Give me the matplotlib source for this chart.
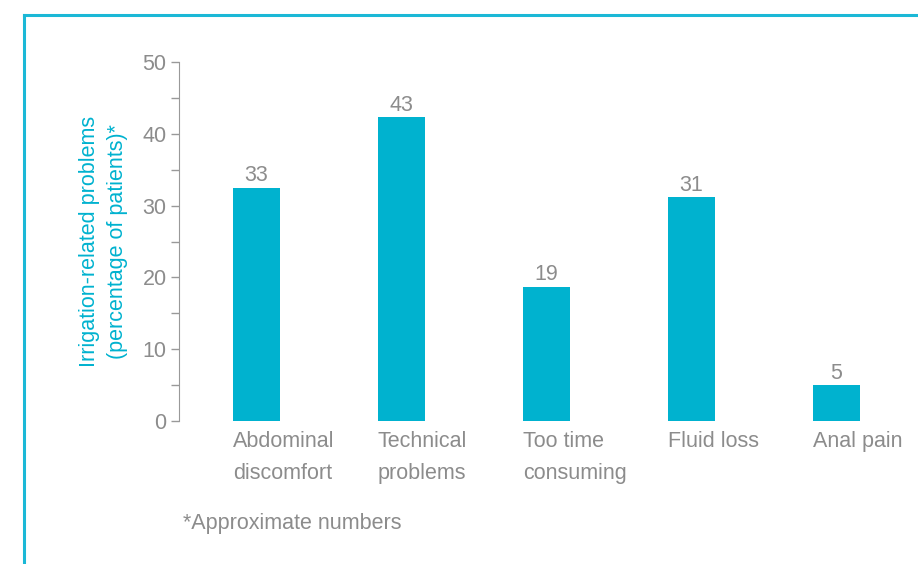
import numpy as np
import matplotlib.pyplot as plt
from matplotlib.lines import Line2D
from matplotlib import transforms

# datos
categorias = ["Abdominal\ndiscomfort", "Technical\nproblems", "Too time\nconsuming", "Fluid loss", "Anal pain"]
valores = [32.5, 42.3, 18.7, 31.2, 5.0]
etiquetas = ["33", "43", "19", "31", "5"]

CIAN = "#00b2cf"
GRIS = "#8c8c8c"
FS = 15.5
plt.rcParams["font.family"] = ["Liberation Sans", "DejaVu Sans"]

fig = plt.figure(figsize=(9.18, 5.64), dpi=100)
ax = fig.add_axes([179/918, 143/564, 739/918, 359/564])

x = np.arange(len(valores))
ax.bar(x, valores, width=0.324, color=CIAN)

for xi, v, et in zip(x, valores, etiquetas):
    ax.annotate(et, (xi, v), xytext=(0, 1), textcoords="offset points",
                ha="center", va="bottom", fontsize=FS, color=GRIS)

# etiquetas de categoria alineadas a la izquierda de cada barra
trans = transforms.blended_transform_factory(ax.transData, ax.transAxes)
for xi, cat in zip(x, categorias):
    ax.text(xi - 0.162, -0.028, cat, transform=trans, ha="left", va="top",
            fontsize=FS, color=GRIS, linespacing=1.7)

ax.set_xlim(-0.534, 4.562)
ax.set_ylim(0, 50)
ax.set_xticks([])
ax.set_yticks(np.arange(0, 51, 10))
ax.set_yticks(np.arange(5, 50, 10), minor=True)
ax.tick_params(axis="y", which="both", length=6, width=1, color="#999999",
               labelsize=FS, labelcolor=GRIS, pad=3)
for s in ["top", "right", "bottom"]:
    ax.spines[s].set_visible(False)
ax.spines["left"].set_color("#999999")

ax.set_ylabel("Irrigation-related problems\n(percentage of patients)*", color=CIAN,
              fontsize=FS, linespacing=1.45, labelpad=10)

fig.text(183/918, 41/564, "*Approximate numbers", fontsize=FS, color=GRIS,
         ha="left", va="center")

# marco cian
fig.add_artist(Line2D([24/918, 1], [1 - 15/564, 1 - 15/564], color="#1bb8d6", lw=2.2,
                      transform=fig.transFigure))
fig.add_artist(Line2D([24/918, 24/918], [0, 1 - 15/564], color="#1bb8d6", lw=2.2,
                      transform=fig.transFigure))

fig.savefig("out.png", dpi=100)
plt.close()
